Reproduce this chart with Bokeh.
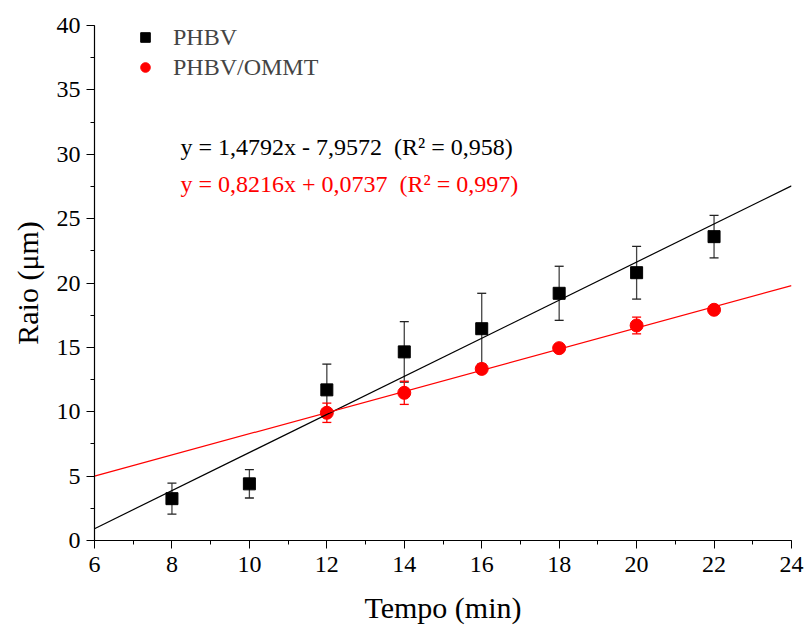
from bokeh.plotting import figure
from bokeh.models import ColumnDataSource, Whisker, TeeHead, Label, Legend, LegendItem, SingleIntervalTicker, Range1d
from bokeh.embed import file_html
from bokeh.resources import INLINE

# Data
tempo = [8, 10, 12, 14, 16, 18, 20, 22]
phbv = [3.25, 4.4, 11.7, 14.65, 16.45, 19.2, 20.8, 23.6]
phbv_err = [1.2, 1.1, 2.0, 2.35, 2.75, 2.1, 2.05, 1.65]
ommt_t = [12, 14, 16, 18, 20, 22]
ommt = [9.92, 11.47, 13.33, 14.94, 16.70, 17.92]
ommt_err = [0.75, 0.9, 0.3, 0.3, 0.65, 0.2]

fit_x = [6, 24]
phbv_slope, phbv_icpt = 1.4792, -7.9572
ommt_slope, ommt_icpt = 0.8216, 0.0737

eq_phbv = "y = 1,4792x - 7,9572 \u00a0(R\u00b2 = 0,958)"
eq_ommt = "y = 0,8216x + 0,0737 \u00a0(R\u00b2 = 0,997)"

FONT = "Liberation Serif"
RED = "#ff0000"

s1 = ColumnDataSource(dict(
    x=tempo, y=phbv,
    upper=[v + e for v, e in zip(phbv, phbv_err)],
    lower=[v - e for v, e in zip(phbv, phbv_err)],
))
s2 = ColumnDataSource(dict(
    x=ommt_t, y=ommt,
    upper=[v + e for v, e in zip(ommt, ommt_err)],
    lower=[v - e for v, e in zip(ommt, ommt_err)],
))

p = figure(
    frame_width=697, frame_height=515,
    min_border_left=94, min_border_right=13, min_border_top=25, min_border_bottom=88,
    x_range=Range1d(6, 24), y_range=Range1d(0, 40),
    output_backend="svg", toolbar_location=None,
    background_fill_color="white", border_fill_color="white",
)
p.outline_line_color = None
p.grid.visible = False

# Error bars and markers
w1 = Whisker(source=s1, base="x", upper="upper", lower="lower",
             line_color="#444444", line_width=1.3,
             upper_head=TeeHead(size=9, line_color="#222222", line_width=1.3),
             lower_head=TeeHead(size=9, line_color="#222222", line_width=1.3))
p.add_layout(w1)
r1 = p.scatter("x", "y", source=s1, marker="square", size=12,
               fill_color="black", line_color="black")

w2 = Whisker(source=s2, base="x", upper="upper", lower="lower",
             line_color=RED, line_width=1.3,
             upper_head=TeeHead(size=9, line_color=RED, line_width=1.3),
             lower_head=TeeHead(size=9, line_color=RED, line_width=1.3))
p.add_layout(w2)
r2 = p.scatter("x", "y", source=s2, marker="circle", size=13,
               fill_color=RED, line_color=RED)

# Fit lines
p.line(fit_x, [phbv_slope * x + phbv_icpt for x in fit_x], line_color="black", line_width=1.2)
p.line(fit_x, [ommt_slope * x + ommt_icpt for x in fit_x], line_color=RED, line_width=1.2)

# Equations
p.add_layout(Label(x=8.22, y=30.6, text=eq_phbv, text_font=FONT, text_font_size="24px",
                   text_color="black", text_baseline="middle", text_align="left"))
p.add_layout(Label(x=8.22, y=27.7, text=eq_ommt, text_font=FONT, text_font_size="24px",
                   text_color=RED, text_baseline="middle", text_align="left"))

# Legend
legend = Legend(items=[LegendItem(label="PHBV", renderers=[r1]),
                       LegendItem(label="PHBV/OMMT", renderers=[r2])],
                location=(39, 459), padding=0, margin=0, spacing=2,
                glyph_width=24, glyph_height=24, label_height=28, label_standoff=16,
                label_text_font=FONT, label_text_font_size="24px",
                border_line_color=None, background_fill_alpha=0)
p.add_layout(legend)

# Axes
for ax in (p.xaxis[0], p.yaxis[0]):
    ax.axis_line_color = "black"
    ax.axis_line_width = 1.2
    ax.major_tick_line_color = "black"
    ax.minor_tick_line_color = "black"
    ax.major_tick_out = 8
    ax.major_tick_in = 0
    ax.minor_tick_out = 4
    ax.minor_tick_in = 0
    ax.major_label_text_font = FONT
    ax.major_label_text_font_size = "24px"
    ax.major_label_text_color = "black"
    ax.axis_label_text_font = FONT
    ax.axis_label_text_font_size = "30px"
    ax.axis_label_text_font_style = "normal"
    ax.axis_label_text_color = "black"

p.xaxis.ticker = SingleIntervalTicker(interval=2, num_minor_ticks=2)
p.yaxis.ticker = SingleIntervalTicker(interval=5, num_minor_ticks=2)
p.xaxis.major_label_standoff = 8
p.yaxis.major_label_standoff = 6
p.xaxis.axis_label = "Tempo (min)"
p.yaxis.axis_label = "Raio (\u03bcm)"
p.xaxis.axis_label_standoff = 16
p.yaxis.axis_label_standoff = 10

open("out.html", "w").write(file_html(p, INLINE))
